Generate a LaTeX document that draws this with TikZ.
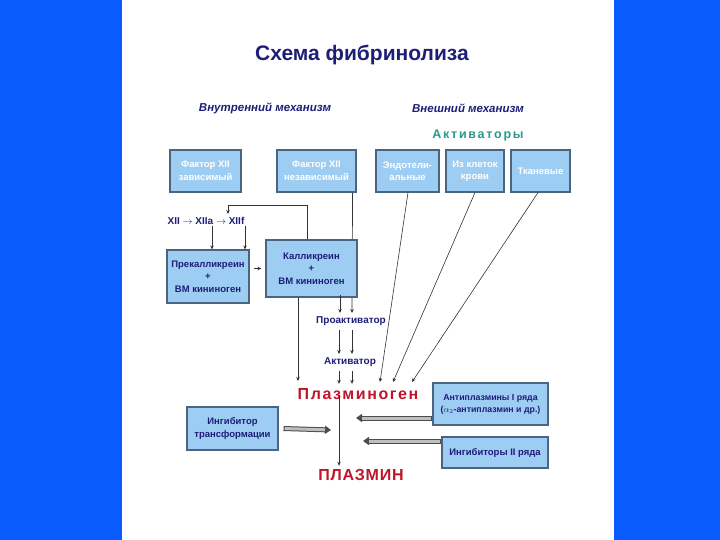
\documentclass[tikz,border=0pt]{standalone}
\usepackage{fontspec}
\setmainfont{Liberation Sans}
\usetikzlibrary{arrows.meta, positioning, calc}
\definecolor{sideblue}{HTML}{0A5CFF}
\definecolor{boxfill}{HTML}{9DCDF2}
\definecolor{boxline}{HTML}{4A6580}
\definecolor{navy}{HTML}{1E1E78}
\definecolor{tealtxt}{HTML}{2A9A8C}
\definecolor{plred}{HTML}{C0142A}
\definecolor{lnk}{HTML}{333333}
\pgfdeclarelayer{back}
\pgfdeclarelayer{lines}
\pgfsetlayers{back,lines,main}

\begin{document}
\begin{tikzpicture}[x=1pt, y=-1pt,
  box/.style={rectangle, draw=boxline, line width=1.1pt, fill=boxfill,
    align=center, inner sep=2pt, font=\fontsize{9.5}{12.5}\selectfont\bfseries},
  topbox/.style={box, text=white, minimum height=42pt},
  lowbox/.style={box, text=navy},
  arr/.style={draw=lnk, line width=0.7pt, -{Stealth[length=4pt, width=3.5pt]}},
  thin/.style={draw=lnk, line width=0.6pt, -{Stealth[length=4pt, width=3.5pt]}},
  tube/.style={draw=gray!60!black, line width=5pt,
    -{Triangle[length=6pt, width=8pt]},
    postaction={draw=gray!50, line width=3pt, shorten >=6pt, shorten <=1pt, -}},
  stage/.style={font=\fontsize{10}{12}\selectfont\bfseries, text=navy},
  mech/.style={font=\fontsize{11.5}{13}\selectfont\bfseries\itshape, text=navy},
  redword/.style={text=plred},
]

% Background
\useasboundingbox (0,0) rectangle (720,540);
\begin{pgfonlayer}{back}
\fill[sideblue] (0,0) rectangle (720,540);
\fill[white] (122,0) rectangle (614,540);
\end{pgfonlayer}

% Titles
\node[font=\fontsize{21}{24}\selectfont\bfseries, text=navy] (title) at (362,55) {Схема фибринолиза};
\node[mech] (intern) at (265,108) {Внутренний механизм};
\node[mech] (extern) at (468,108) {Внешний механизм};
\node[font=\fontsize{12.5}{14}\selectfont\bfseries\addfontfeature{LetterSpace=14}, text=tealtxt]
  (activs) at (478,135) {Активаторы};

% Top row
\node[topbox, minimum width=71pt] (f12dep) at (205.5,171) {Фактор XII\\зависимый};
\node[topbox, minimum width=79pt] (f12ind) at (316.5,171) {Фактор XII\\независимый};
\node[topbox, minimum width=63pt] (endo) at (407.5,171) {Эндотели-\\альные};
\node[topbox, minimum width=58pt] (blood) at (475,171) {Из клеток\\крови};
\node[topbox, minimum width=59pt] (tissue) at (540.5,171) {Тканевые};

% Internal pathway
\node[stage] (chain) at (206,221) {XII $\rightarrow$ XIIa $\rightarrow$ XIIf};
\node[lowbox, minimum width=82pt, minimum height=53pt] (prekal) at (208,276.5)
  {Прекалликреин\\+\\ВМ кининоген};
\node[lowbox, minimum width=91pt, minimum height=57pt] (kal) at (311.5,268.5)
  {Калликреин\\+\\ВМ кининоген};
\node[stage] (proakt) at (351,321) {Проактиватор};
\node[stage] (akt) at (350,362) {Активатор};

% Plasminogen / plasmin
\node[redword, font=\fontsize{16}{18}\selectfont\bfseries\addfontfeature{LetterSpace=10}]
  (plg) at (358,394) {Плазминоген};
\node[redword, font=\fontsize{16}{18}\selectfont\bfseries\addfontfeature{LetterSpace=5}]
  (plm) at (361,475) {ПЛАЗМИН};

% Inhibitors
\node[lowbox, minimum width=91pt, minimum height=43pt] (inhtr) at (232.5,428.5)
  {Ингибитор\\трансформации};
\node[lowbox, minimum width=115pt, minimum height=42pt, font=\fontsize{8.8}{12}\selectfont\bfseries]
  (anti1) at (490.5,404) {Антиплазмины I ряда\\($\alpha_2$-антиплазмин и др.)};
\node[lowbox, minimum width=106pt, minimum height=31pt] (inh2) at (495,452.5)
  {Ингибиторы II ряда};

% Free ends
\coordinate (fbtop) at (228,205);
\coordinate (fbend) at (228,214);
\coordinate (tipk) at (298,381);
\coordinate (tipe) at (380,382);
\coordinate (tipb) at (393,382);
\coordinate (tipt) at (412,382);
\coordinate (tipi) at (331,430);
\coordinate (tipa) at (356,418);
\coordinate (tipc) at (363,441);

% Feedback kallikrein -> XIIf
\draw[arr] ([xshift=-4.5pt]kal.north) |- (fbtop) -- (fbend);
\draw[arr] ([xshift=6pt, yshift=2pt]chain.south) -- ([xshift=4pt]prekal.north);
\draw[arr] ([xshift=39pt, yshift=2pt]chain.south) -- ([xshift=37pt]prekal.north);
\draw[arr, shorten <=4pt, shorten >=4pt] (prekal.east |- kal.west) -- (kal.west);

% To proactivator and activator
\draw[arr] ([xshift=-13.5pt]kal.south) -- (tipk);
\draw[arr] ([xshift=28.5pt, yshift=3pt]kal.south) -- ([xshift=-11pt]proakt.north);
\begin{pgfonlayer}{lines}
\draw[arr] ([xshift=-4pt]f12ind.south east) -- ([xshift=1pt]proakt.north);
\end{pgfonlayer}
\draw[arr] ([xshift=-12pt, yshift=-1pt]proakt.south) -- ([xshift=-11pt]akt.north);
\draw[arr] ([xshift=1pt, yshift=-1pt]proakt.south) -- ([xshift=2pt]akt.north);
\draw[arr] ([xshift=-11pt, yshift=-1pt]akt.south) -- ([xshift=-19pt, yshift=1pt]plg.north);
\draw[arr] ([xshift=2pt, yshift=-1pt]akt.south) -- ([xshift=-6pt, yshift=1pt]plg.north);

% External activators
\draw[thin] ([xshift=0.5pt]endo.south) -- (tipe);
\draw[thin] (blood.south) -- (tipb);
\draw[thin] ([xshift=-2.5pt]tissue.south) -- (tipt);

% Plasminogen -> plasmin
\draw[arr] ([xshift=-19pt, yshift=8pt]plg.south) -- ([xshift=-22pt]plm.north);

% Inhibition
\draw[tube] ([xshift=5pt]inhtr.east) -- (tipi);
\draw[tube] (anti1.west |- tipa) -- (tipa);
\draw[tube] (inh2.west |- tipc) -- (tipc);
\end{tikzpicture}
\end{document}
